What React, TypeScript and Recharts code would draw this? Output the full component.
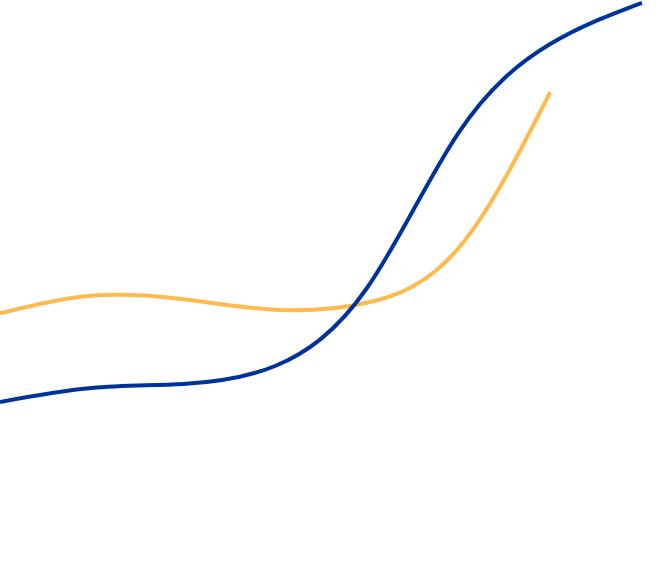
import { LineChart, Line, XAxis, YAxis } from "recharts";

// evenly spaced steps along x; y runs 0..100 bottom to top
const blueY = [30.7, 33.1, 33.8, 36.9, 50.3, 77.1, 92.4, 99.5];
const orangeY = [46.0, 49.0, 48.4, 46.6, 47.8, 57.2, 84.1];

const blueData = blueY.map((y, i) => ({ x: i, y }));
const orangeData = orangeY.map((y, i) => ({ x: i, y }));

export default function App() {
  return (
    <div style={{ position: "absolute", left: 0, top: 0, width: 663, height: 580, background: "#fff" }}>
      <LineChart width={663} height={580} margin={{ top: 0, right: 0, bottom: 0, left: 0 }}>
        <XAxis type="number" dataKey="x" domain={[0, 7.23]} hide />
        <YAxis type="number" dataKey="y" domain={[0, 100]} hide />
        <Line
          data={orangeData}
          dataKey="y"
          type="natural"
          stroke="#FFBA4D"
          strokeWidth={4}
          dot={false}
          activeDot={false}
          isAnimationActive={false}
        />
        <Line
          data={blueData}
          dataKey="y"
          type="natural"
          stroke="#003399"
          strokeWidth={4}
          dot={false}
          activeDot={false}
          isAnimationActive={false}
        />
      </LineChart>
    </div>
  );
}
